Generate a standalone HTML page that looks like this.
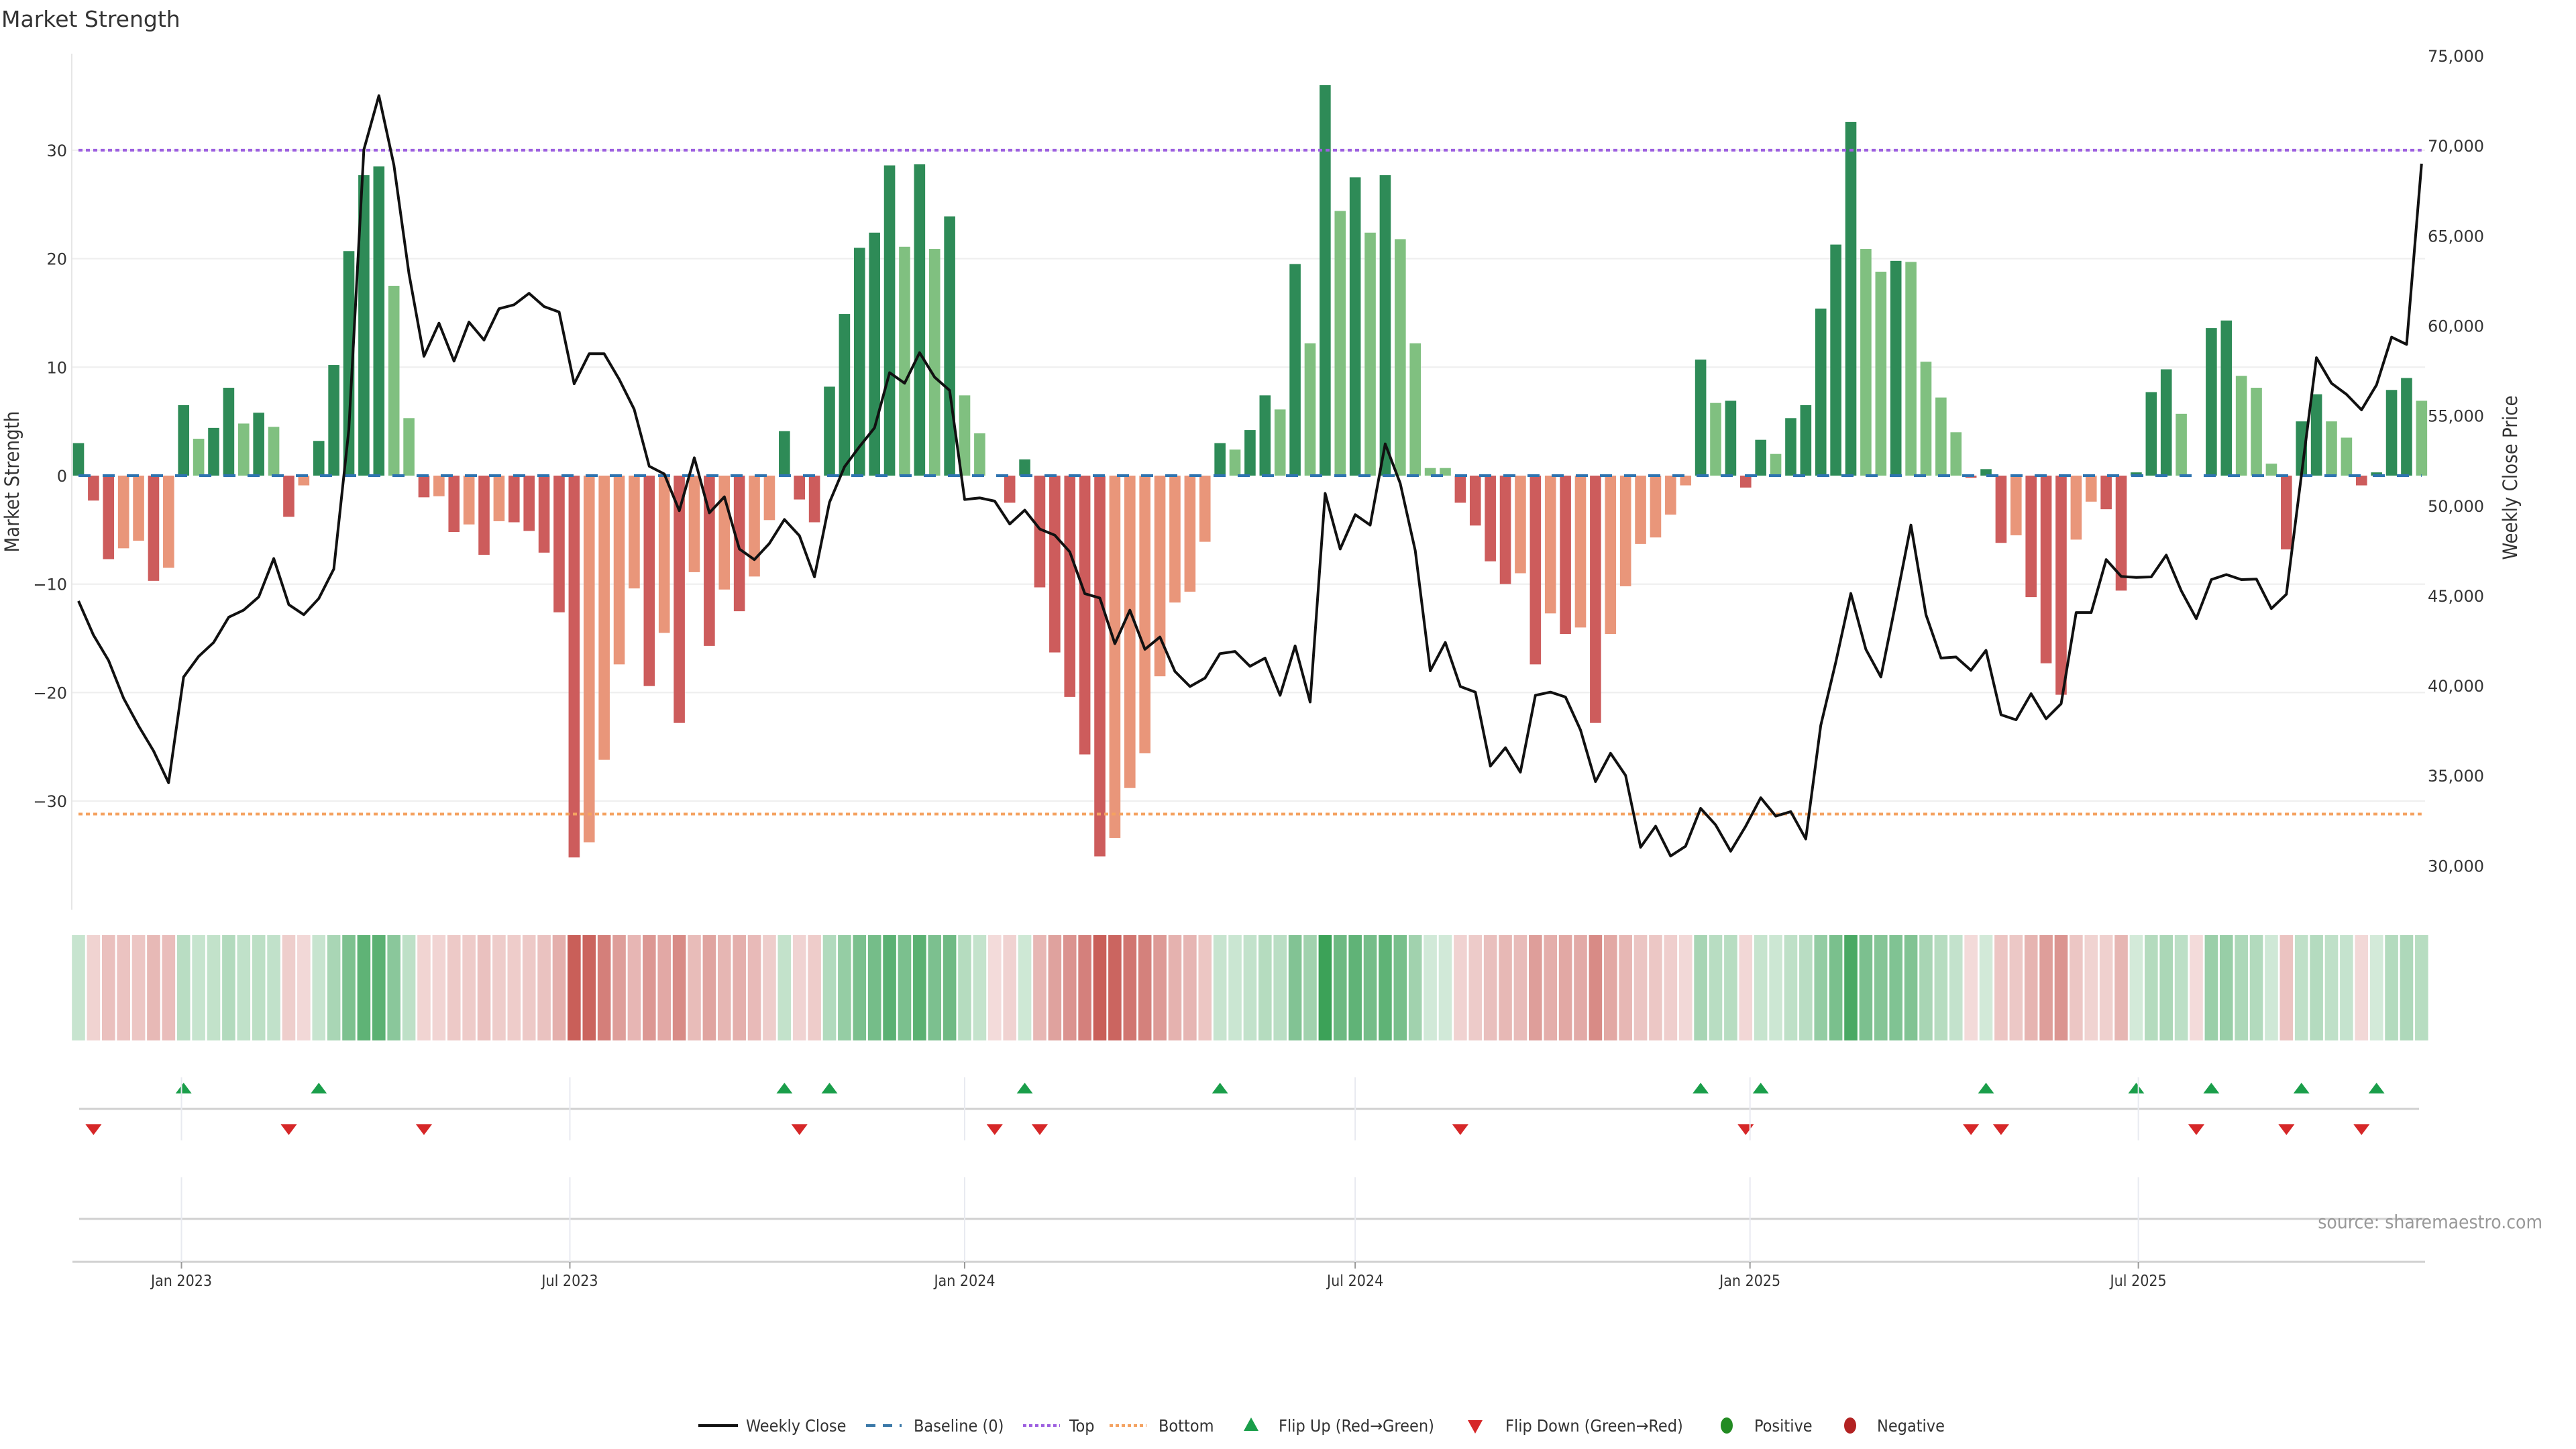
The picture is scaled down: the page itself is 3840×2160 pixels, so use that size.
<!DOCTYPE html>
<html><head><meta charset="utf-8"><title>Market Strength</title>
<style>
html,body{margin:0;padding:0;background:#fff;}
svg{display:block;}
.t{font-family:"DejaVu Sans","Liberation Sans",sans-serif;fill:#333;}
.c{font-family:"DejaVu Sans Condensed","Liberation Sans Narrow","Liberation Sans",sans-serif;font-stretch:condensed;fill:#333;}
</style></head>
<body>
<svg id="chart" xmlns="http://www.w3.org/2000/svg" width="3840" height="2160" viewBox="0 0 3840 2160">
<rect x="0" y="0" width="3840" height="2160" fill="#fff"/>
<text class="t" x="2" y="40" font-size="33">Market Strength</text>
<g id="grid"></g>
<g id="heat"></g>
<g id="bars"></g>
<g id="refs"></g>
<g id="line"></g>
<g id="flips"></g>
<g id="axes"></g>
<text class="c" x="28" y="718" font-size="29" transform="rotate(-90 28 718)" text-anchor="middle">Market Strength</text>
<text class="c" x="3752" y="712" font-size="29" transform="rotate(-90 3752 712)" text-anchor="middle">Weekly Close Price</text>
<text class="c" x="3790" y="1831" font-size="28" text-anchor="end" style="fill:#999">source: sharemaestro.com</text>
<g id="legend">
  <line x1="1041" y1="2125" x2="1100" y2="2125" stroke="#111" stroke-width="4"/>
  <text class="c" x="1112" y="2134" font-size="25">Weekly Close</text>
  <line x1="1291" y1="2125" x2="1344" y2="2125" stroke="#3a78a8" stroke-width="4" stroke-dasharray="14 11"/>
  <text class="c" x="1362" y="2134" font-size="25">Baseline (0)</text>
  <line x1="1525" y1="2125" x2="1580" y2="2125" stroke="#9d5fe0" stroke-width="4" stroke-dasharray="5 4"/>
  <text class="c" x="1594" y="2134" font-size="25">Top</text>
  <line x1="1654" y1="2125" x2="1709" y2="2125" stroke="#f4a261" stroke-width="4" stroke-dasharray="5 4"/>
  <text class="c" x="1727" y="2134" font-size="25">Bottom</text>
  <polygon points="1865,2113 1876,2133 1854,2133" fill="#1a9e4a"/>
  <text class="c" x="1906" y="2134" font-size="25">Flip Up (Red→Green)</text>
  <polygon points="2188,2117 2210,2117 2199,2137" fill="#d62728"/>
  <text class="c" x="2244" y="2134" font-size="25">Flip Down (Green→Red)</text>
  <ellipse cx="2574" cy="2125" rx="9" ry="12" fill="#228b22"/>
  <text class="c" x="2615" y="2134" font-size="25">Positive</text>
  <ellipse cx="2758" cy="2125" rx="9" ry="12" fill="#b22222"/>
  <text class="c" x="2798" y="2134" font-size="25">Negative</text>
</g>
</svg>
<script>
const strength = [3.0,-2.3,-7.7,-6.7,-6.0,-9.7,-8.5,
6.5,3.4,4.4,8.1,4.8,5.8,4.5,-3.8,-0.9,3.2,10.2,20.7,27.7,28.5,17.5,5.3,
-2.0,-1.9,-5.2,-4.5,-7.3,-4.2,-4.3,-5.1,-7.1,-12.6,-35.2,-33.8,-26.2,-17.4,-10.4,-19.4,-14.5,-22.8,-8.9,-15.7,
-10.5,-12.5,-9.3,-4.1,4.1,-2.2,-4.3,8.2,14.9,21.0,22.4,28.6,21.1,28.7,20.9,23.9,7.4,3.9,
0,-2.5,1.5,-10.3,-16.3,-20.4,-25.7,-35.1,-33.4,-28.8,-25.6,-18.5,-11.7,-10.7,-6.1,
3.0,2.4,4.2,7.4,6.1,19.5,12.2,36.0,24.4,27.5,22.4,27.7,21.8,12.2,0.7,
0.7,-2.5,-4.6,-7.9,-10.0,-9.0,-17.4,-12.7,-14.6,-14.0,-22.8,-14.6,-10.2,-6.3,-5.7,-3.6,-0.9,
10.7,6.7,6.9,-1.1,3.3,2.0,5.3,6.5,15.4,21.3,32.6,20.9,18.8,19.8,19.7,10.5,7.2,4.0,-0.2,
0.6,-6.2,-5.5,-11.2,-17.3,-20.2,-5.9,-2.4,-3.1,-10.6,0.3,7.7,9.8,5.7,0,13.6,14.3,9.2,8.1,1.1,-6.8,5.0,7.5,5.0,3.5,-0.9,0.3,7.9,9.0,6.9];
const closes = [44700,42800,41400,39300,37760,36370,34600,40480,41620,42400,43800,44200,44930,47060,44500,43940,44840,46480,54230,69780,72780,68920,62900,
58300,60140,58030,60200,59200,60940,61160,61800,61060,60760,56770,58440,58440,57020,55350,52190,51760,49720,52660,49600,
50490,47590,47000,47900,49230,48330,46040,50180,52160,53280,54330,57390,56800,58500,57140,56400,50340,50430,50250,48980,49750,48700,48360,47430,45110,44870,42330,44190,42020,42700,40790,39950,40420,41780,41900,41070,41530,39460,42210,39090,50680,47590,
49500,48920,53430,51240,47500,40820,42400,39950,39640,35530,36550,35190,39460,39640,39370,37540,34670,36240,35010,31020,32190,30530,31080,33180,32260,30800,32190,33770,32750,33000,31480,37790,41310,45120,42020,40480,44650,48920,43940,41530,41590,40850,
41960,38380,38100,39550,38160,38990,44060,44060,47000,46070,46010,46040,47250,45270,43720,45890,46170,45890,45920,44280,45080,51700,58220,56800,56180,55320,56710,59360,58960,69000];
const startDate = "2022-11-14";
const leftTicks = [30,20,10,0,-10,-20,-30];
const leftTickLabels = ["30","20","10","0","−10","−20","−30"];
const rightTicks = [75000,70000,65000,60000,55000,50000,45000,40000,35000,30000];
const dateTicks = ["2023-01-01","2023-07-01","2024-01-01","2024-07-01","2025-01-01","2025-07-01"];
const dateTickLabels = ["Jan 2023","Jul 2023","Jan 2024","Jul 2024","Jan 2025","Jul 2025"];
const topLevel = 30;
const bottomLevel = -31.2;

const NS = "http://www.w3.org/2000/svg";
const X0 = 117, STEP = 22.39;
const t0 = Date.parse(startDate);
function xIdx(i){ return X0 + STEP*i; }
function xDate(s){ return X0 + STEP*((Date.parse(s)-t0)/(7*864e5)); }
function yS(v){ return 709 - v*16.17; }
function yP(p){ return 83 + (75000-p)*0.02683; }
function mk(tag, attrs, parent){ const e=document.createElementNS(NS,tag); for(const k in attrs) e.setAttribute(k,attrs[k]); parent.appendChild(e); return e; }
const g = id => document.getElementById(id);
const xEnd = xIdx(strength.length-1);

leftTicks.forEach((v,k)=>{
  if(v!==0){ const l=mk('line',{x1:107,x2:3615,y1:yS(v),y2:yS(v),stroke:'#eeeeee','stroke-width':2},g('grid'));
  
   }
  const t=mk('text',{x:100,y:yS(v)+9,'text-anchor':'end','font-size':24,class:'t'},g('axes'));
  t.textContent=leftTickLabels[k];
  
  
});
rightTicks.forEach(p=>{
  const t=mk('text',{x:3619,y:yP(p)+9,'font-size':24,class:'t'},g('axes'));
  t.textContent=p.toLocaleString('en-US');
  
  
});
mk('line',{x1:107,x2:107,y1:80,y2:1356,stroke:'#e6e6e6','stroke-width':2},g('axes'));

strength.forEach((v,i)=>{
  const prev = i>0 ? strength[i-1] : -Infinity;
  let col;
  if(v>0) col = v>prev ? '#2e8b57' : '#80c080';
  else col = v<prev ? '#cd5c5c' : '#e9967a';
  const y1=yS(Math.max(v,0)), y2=yS(Math.min(v,0));
  const r=mk('rect',{x:xIdx(i)-8.3,y:y1,width:16.6,height:Math.max(y2-y1,0.01),fill:col},g('bars'));
  
  
  const a = 0.22 + 0.78*Math.min(Math.abs(v)/36,1);
  const base = v>0 ? [60,162,88] : [200,92,86];
  const c = base.map(ch=>Math.round(255-(255-ch)*a));
  const h=mk('rect',{x:xIdx(i)-9.8,y:1394,width:19.6,height:157,fill:`rgb(${c[0]},${c[1]},${c[2]})`},g('heat'));
  
  
});

const bl=mk('line',{x1:X0,x2:xEnd,y1:yS(0),y2:yS(0),stroke:'#2f74b0','stroke-width':4,'stroke-dasharray':'18 18'},g('refs'));


const tl=mk('line',{x1:X0,x2:xEnd,y1:yS(topLevel),y2:yS(topLevel),stroke:'#9d5fe0','stroke-width':4,'stroke-dasharray':'6 5'},g('refs'));


const bt=mk('line',{x1:X0,x2:xEnd,y1:yS(bottomLevel),y2:yS(bottomLevel),stroke:'#f4a261','stroke-width':4,'stroke-dasharray':'6 5'},g('refs'));



const pts = closes.map((p,i)=>xIdx(i).toFixed(1)+','+yP(p).toFixed(1)).join(' ');
const pl=mk('polyline',{points:pts,fill:'none',stroke:'#111','stroke-width':4,'stroke-linejoin':'round'},g('line'));



mk('line',{x1:118,x2:3606,y1:1653,y2:1653,stroke:'#d0d0d0','stroke-width':3},g('axes'));
mk('line',{x1:118,x2:3615,y1:1817,y2:1817,stroke:'#d0d0d0','stroke-width':3},g('axes'));
mk('line',{x1:108,x2:3615,y1:1881,y2:1881,stroke:'#d0d0d0','stroke-width':3},g('axes'));
dateTicks.forEach((d,k)=>{
  const x=xDate(d);
  mk('line',{x1:x,x2:x,y1:1606,y2:1700,stroke:'#e8eaf0','stroke-width':2},g('axes'));
  mk('line',{x1:x,x2:x,y1:1755,y2:1881,stroke:'#e8eaf0','stroke-width':2},g('axes'));
  mk('line',{x1:x,x2:x,y1:1881,y2:1891,stroke:'#999','stroke-width':2},g('axes'));
  const t=mk('text',{x:x,y:1917,'text-anchor':'middle','font-size':23,class:'c'},g('axes'));
  t.textContent=dateTickLabels[k];
  
  
});
for(let i=1;i<strength.length;i++){
  const was = strength[i-1]>0, now = strength[i]>0;
  const x=xIdx(i);
  if(!was && now){
    const m=mk('polygon',{points:`${x},1614 ${x+12},1630 ${x-12},1630`,fill:'#1a9e4a'},g('flips'));
    
    
  } else if(was && !now){
    const m=mk('polygon',{points:`${x-12},1676 ${x+12},1676 ${x},1692`,fill:'#d62728'},g('flips'));
    
    
  }
}
</script>
</body></html>
